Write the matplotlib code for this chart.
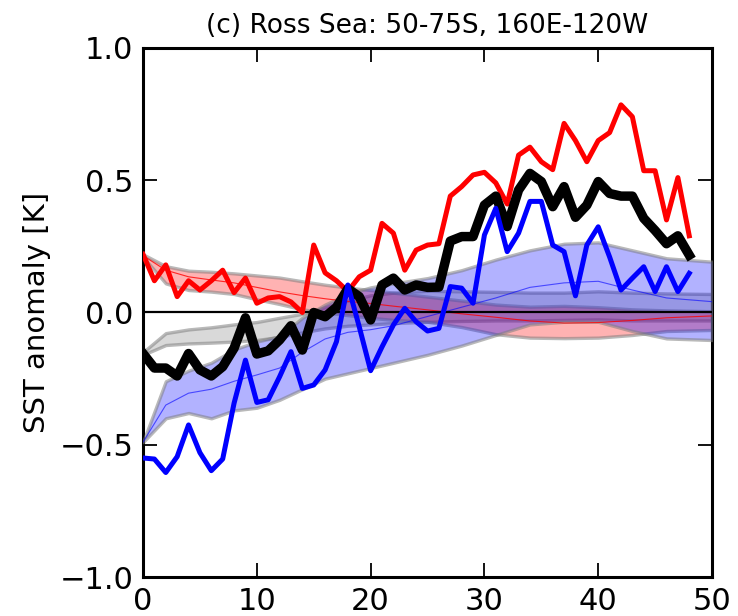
import numpy as np
import matplotlib
matplotlib.use("Agg")
import matplotlib.pyplot as plt

# Yearly SST anomaly series for the Ross Sea box
years = np.arange(0, 49)

sst_red = [0.22, 0.12, 0.18, 0.06, 0.12, 0.085, 0.12, 0.16, 0.075, 0.13,
           0.035, 0.055, 0.06, 0.04, 0.0, 0.255, 0.15, 0.12, 0.08, 0.135,
           0.16, 0.337, 0.30, 0.16, 0.236, 0.255, 0.26, 0.44, 0.476, 0.52,
           0.53, 0.49, 0.41, 0.595, 0.625, 0.57, 0.54, 0.715, 0.65, 0.57,
           0.65, 0.68, 0.785, 0.74, 0.536, 0.536, 0.35, 0.51, 0.29]

sst_black = [-0.155, -0.21, -0.21, -0.24, -0.155, -0.217, -0.24, -0.205, -0.135, -0.02,
             -0.157, -0.145, -0.104, -0.05, -0.142, 0.0, -0.016, 0.02, 0.09, 0.06,
             -0.028, 0.104, 0.13, 0.085, 0.104, 0.095, 0.096, 0.27, 0.287, 0.287,
             0.406, 0.44, 0.325, 0.463, 0.526, 0.495, 0.40, 0.476, 0.36, 0.406,
             0.495, 0.45, 0.44, 0.44, 0.356, 0.31, 0.26, 0.29, 0.217]

sst_blue = [-0.55, -0.554, -0.605, -0.545, -0.425, -0.53, -0.598, -0.554, -0.343, -0.18,
            -0.34, -0.33, -0.243, -0.148, -0.287, -0.274, -0.217, -0.11, 0.104, -0.054,
            -0.22, -0.13, -0.047, 0.016, -0.035, -0.07, -0.06, 0.098, 0.092, 0.035,
            0.293, 0.394, 0.23, 0.30, 0.42, 0.42, 0.255, 0.23, 0.063, 0.255,
            0.324, 0.21, 0.085, 0.13, 0.173, 0.079, 0.173, 0.079, 0.148]

# Ensemble spread envelopes (lower, mean, upper)
band_x = [0, 2, 4, 6, 8, 10, 12, 14, 16, 18, 20, 22, 25, 28, 31, 34, 37, 40, 43, 46, 50]

grey_lo = [-0.16, -0.123, -0.117, -0.114, -0.11, -0.104, -0.092, -0.075, -0.06, -0.05,
           -0.045, -0.04, -0.035, -0.032, -0.03, -0.03, -0.028, -0.026, -0.03, -0.03, -0.03]
grey_hi = [-0.15, -0.078, -0.064, -0.056, -0.045, -0.036, -0.02, -0.005, 0.02, 0.045,
           0.065, 0.075, 0.082, 0.08, 0.078, 0.075, 0.075, 0.08, 0.075, 0.072, 0.07]

red_lo = [0.21, 0.11, 0.085, 0.079, 0.07, 0.05, 0.032, 0.012, 0.0, -0.01,
          -0.02, -0.028, -0.035, -0.055, -0.082, -0.095, -0.097, -0.095, -0.085, -0.07, -0.066]
red_mid = [0.215, 0.16, 0.135, 0.123, 0.112, 0.095, 0.078, 0.064, 0.052, 0.042,
           0.034, 0.024, 0.01, -0.005, -0.018, -0.032, -0.04, -0.038, -0.03, -0.02, -0.013]
red_hi = [0.22, 0.175, 0.158, 0.154, 0.148, 0.14, 0.132, 0.118, 0.105, 0.094,
          0.085, 0.075, 0.06, 0.045, 0.03, 0.022, 0.025, 0.02, 0.012, 0.008, 0.005]

blue_lo = [-0.49, -0.40, -0.38, -0.40, -0.37, -0.36, -0.33, -0.29, -0.25, -0.23,
           -0.21, -0.19, -0.16, -0.125, -0.085, -0.045, -0.035, -0.035, -0.07, -0.098, -0.104]
blue_mid = [-0.49, -0.35, -0.305, -0.29, -0.26, -0.236, -0.21, -0.15, -0.1, -0.075,
            -0.065, -0.05, -0.015, 0.02, 0.055, 0.095, 0.112, 0.118, 0.085, 0.055, 0.041]
blue_hi = [-0.49, -0.26, -0.22, -0.19, -0.14, -0.11, -0.09, -0.02, 0.03, 0.07,
           0.095, 0.11, 0.13, 0.16, 0.2, 0.235, 0.26, 0.265, 0.235, 0.205, 0.192]

title = "(c) Ross Sea: 50-75S, 160E-120W"
ylabel = "SST anomaly [K]"

fig = plt.figure(figsize=(7.38, 6.16), dpi=100)
ax = fig.add_axes([0.1938, 0.0633, 0.7710, 0.8588])

edge_kw = dict(edgecolor=(0.5, 0.5, 0.5, 0.55), linewidth=2.4)
ax.fill_between(band_x, grey_lo, grey_hi, facecolor=(0, 0, 0, 0.15), **edge_kw, zorder=1)
ax.fill_between(band_x, red_lo, red_hi, facecolor=(1, 0, 0, 0.3), **edge_kw, zorder=2)
ax.fill_between(band_x, blue_lo, blue_hi, facecolor=(0, 0, 1, 0.3), **edge_kw, zorder=3)
ax.plot(band_x, red_mid, color="red", lw=0.8, alpha=0.8, zorder=4)
ax.plot(band_x, blue_mid, color="blue", lw=0.8, alpha=0.6, zorder=4)

ax.axhline(0, color="black", lw=1.6, zorder=5)

ax.plot(years, sst_red, color="red", lw=3.6, zorder=6)
ax.plot(years, sst_black, color="black", lw=6.8, zorder=7)
ax.plot(years, sst_blue, color="blue", lw=3.6, zorder=8)

ax.set_xlim(0, 50)
ax.set_ylim(-1.0, 1.0)
ax.set_xticks([0, 10, 20, 30, 40, 50])
ax.set_yticks([-1.0, -0.5, 0.0, 0.5, 1.0])
ax.set_yticklabels(["\u22121.0", "\u22120.5", "0.0", "0.5", "1.0"])
ax.tick_params(direction="in", length=10, width=1.3, labelsize=22,
               top=True, right=True, pad=7)
for s in ax.spines.values():
    s.set_linewidth(2.2)

ax.set_title(title, fontsize=19, pad=11)
ax.set_ylabel(ylabel, fontsize=21, labelpad=6)

fig.savefig("out.png", dpi=100)
